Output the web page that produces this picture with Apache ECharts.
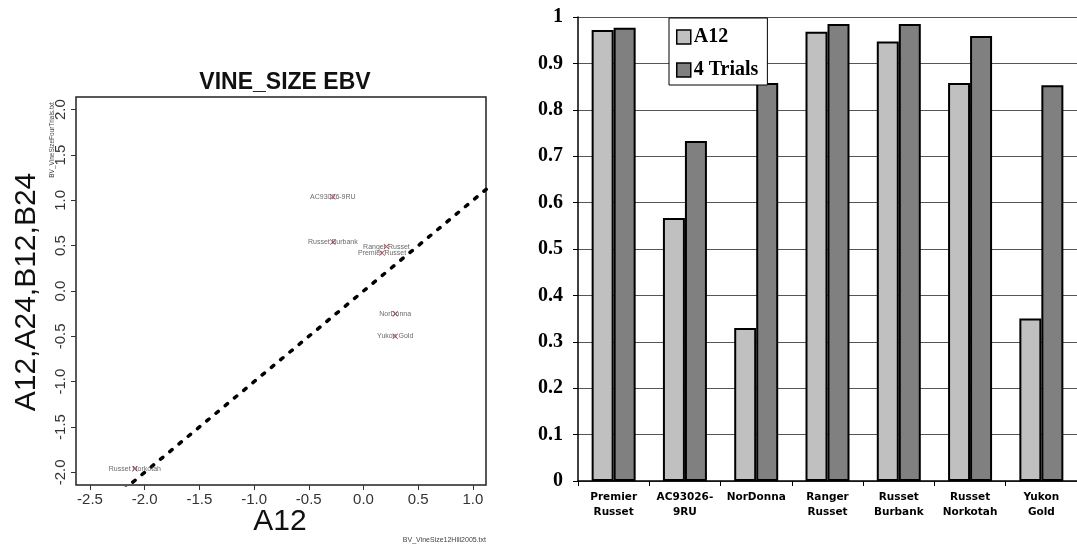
<!DOCTYPE html>
<html>
<head>
<meta charset="utf-8">
<script src="https://cdn.jsdelivr.net/npm/echarts@6/dist/echarts.min.js"></script>
<style>
  html, body { margin: 0; padding: 0; background: #fff; }
  #chart { width: 1077px; height: 544px; }
</style>
</head>
<body>
<div id="chart"></div>
<script>
(function() {
  // left panel: EBV scatter
  var varieties = ['AC93026-9RU', 'Russet Burbank', 'Ranger Russet', 'Premier Russet', 'NorDonna', 'Yukon Gold', 'Russet Norkotah'];
  var ebvA12 = [-0.28, -0.28, 0.21, 0.17, 0.29, 0.29, -2.09];
  var ebvAll = [1.04, 0.54, 0.49, 0.42, -0.25, -0.50, -1.96];
  var refRange = [-2.7, 1.2];
  var scatterTicks = [-2.5, -2.0, -1.5, -1.0, -0.5, 0.0, 0.5, 1.0];
  var scatterYTicks = [-2.0, -1.5, -1.0, -0.5, 0.0, 0.5, 1.0, 1.5, 2.0];

  // right panel: bars
  var categories = ['Premier\nRusset', 'AC93026-\n9RU', 'NorDonna', 'Ranger\nRusset', 'Russet\nBurbank', 'Russet\nNorkotah', 'Yukon\nGold'];
  var a12 = [0.972, 0.567, 0.330, 0.968, 0.947, 0.858, 0.350];
  var fourTrials = [0.977, 0.733, 0.858, 0.985, 0.985, 0.959, 0.853];

  var sans = 'Liberation Sans, Arial, sans-serif';
  var serif = 'Liberation Serif, Times New Roman, serif';
  var grey = '#333';

  var chart = echarts.init(document.getElementById('chart'), null, { renderer: 'canvas' });

  var scatterData = varieties.map(function(n, i) { return { name: n, value: [ebvA12[i], ebvAll[i]] }; });
  var refData = refRange.map(function(v) { return [v, v]; });
  var xSymbol = 'path://M0,1L1,0L5,4L9,0L10,1L6,5L10,9L9,10L5,6L1,10L0,9L4,5Z';

  chart.setOption({
    animation: false,
    title: {
      text: 'VINE_SIZE EBV',
      left: 280, top: 66, textAlign: 'center',
      textStyle: { fontFamily: sans, fontSize: 23, fontWeight: 'bold', color: '#111' }
    },
    legend: {
      data: ['A12', '4 Trials'],
      orient: 'vertical',
      left: 669, top: 18,
      padding: [8, 9, 4, 7],
      itemGap: 11,
      itemWidth: 14, itemHeight: 14,
      icon: 'rect',
      backgroundColor: '#fff',
      borderColor: '#000', borderWidth: 1,
      borderRadius: 0,
      itemStyle: { borderColor: '#000', borderWidth: 1.5 },
      textStyle: { fontFamily: serif, fontWeight: 'bold', fontSize: 20, color: '#000', lineHeight: 22, padding: [0, 0, 0, -2] }
    },
    grid: [
      { left: 76, top: 97, width: 410, height: 388, show: true, borderColor: '#222', borderWidth: 1.5, backgroundColor: 'transparent' },
      { left: 578, top: 17, width: 507, height: 464 }
    ],
    xAxis: [
      {
        gridIndex: 0, type: 'value', min: -2.628, max: 1.12,
        axisLine: { show: false, onZero: false },
        axisTick: { show: true, customValues: scatterTicks, length: 5, lineStyle: { color: grey, width: 1 } },
        axisLabel: { customValues: scatterTicks, margin: 7, fontFamily: sans, fontSize: 15, color: grey,
          formatter: function(v) { return v.toFixed(1); } },
        splitLine: { show: false }
      },
      {
        gridIndex: 1, type: 'category', data: categories,
        axisLine: { lineStyle: { color: '#000', width: 1.5 } },
        axisTick: { show: true, length: 5, lineStyle: { color: '#000', width: 1 } },
        axisLabel: { interval: 0, margin: 9, fontFamily: 'DejaVu Sans', fontWeight: 'bold', fontSize: 10.5, lineHeight: 15, color: '#000' }
      }
    ],
    yAxis: [
      {
        gridIndex: 0, type: 'value', min: -2.14, max: 2.14,
        axisLine: { show: false, onZero: false },
        axisTick: { show: true, customValues: scatterYTicks, length: 5, lineStyle: { color: grey, width: 1 } },
        axisLabel: { customValues: scatterYTicks, rotate: 90, margin: 8, fontFamily: sans, fontSize: 15, color: grey,
          formatter: function(v) { return v.toFixed(1); } },
        splitLine: { show: false }
      },
      {
        gridIndex: 1, type: 'value', min: 0, max: 1, interval: 0.1,
        axisLine: { show: true, lineStyle: { color: '#000', width: 1.5 } },
        axisTick: { show: true, length: 5, lineStyle: { color: '#000', width: 1 } },
        axisLabel: { margin: 15, fontFamily: serif, fontWeight: 'bold', fontSize: 20, color: '#000',
          formatter: function(v) { return (v === 0 || v === 1) ? String(v) : v.toFixed(1); } },
        splitLine: { lineStyle: { color: '#555', width: 1.2 } }
      }
    ],
    series: [
      {
        type: 'line', xAxisIndex: 0, yAxisIndex: 0, data: refData,
        symbol: 'none', clip: true, silent: true, z: 1,
        lineStyle: { color: '#000', width: 3.5, type: [3, 9], cap: 'round' }
      },
      {
        type: 'scatter', xAxisIndex: 0, yAxisIndex: 0, data: scatterData,
        symbol: xSymbol, symbolSize: 6, z: 3,
        itemStyle: { color: '#b0283c' },
        label: { show: true, position: 'inside', formatter: '{b}', fontFamily: sans, fontSize: 7, color: '#444' }
      },
      {
        name: 'A12', type: 'bar', xAxisIndex: 1, yAxisIndex: 1, data: a12,
        barWidth: 22, barGap: '0%',
        itemStyle: { color: '#c0c0c0', borderColor: '#000', borderWidth: 2 }
      },
      {
        name: '4 Trials', type: 'bar', xAxisIndex: 1, yAxisIndex: 1, data: fourTrials,
        barWidth: 22, barGap: '0%',
        itemStyle: { color: '#808080', borderColor: '#000', borderWidth: 2 }
      }
    ],
    graphic: [
      { type: 'text', x: 280, y: 522, style: { text: 'A12', font: '30px ' + sans, fill: '#111', align: 'center', verticalAlign: 'middle' } },
      { type: 'text', x: 27, y: 292, rotation: Math.PI / 2, style: { text: 'A12,A24,B12,B24', font: '30px ' + sans, fill: '#111', align: 'center', verticalAlign: 'middle' } },
      { type: 'text', x: 52, y: 140, rotation: Math.PI / 2, style: { text: 'BV_VineSizeFourTrials.txt', font: '6.5px ' + sans, fill: '#444', align: 'center', verticalAlign: 'middle' } },
      { type: 'text', x: 486, y: 540, style: { text: 'BV_VineSize12Hill2005.txt', font: '7px ' + sans, fill: '#444', align: 'right', verticalAlign: 'middle' } }
    ]
  });

  window.addEventListener('resize', function() { chart.resize(); });
})();
</script>
</body>
</html>
